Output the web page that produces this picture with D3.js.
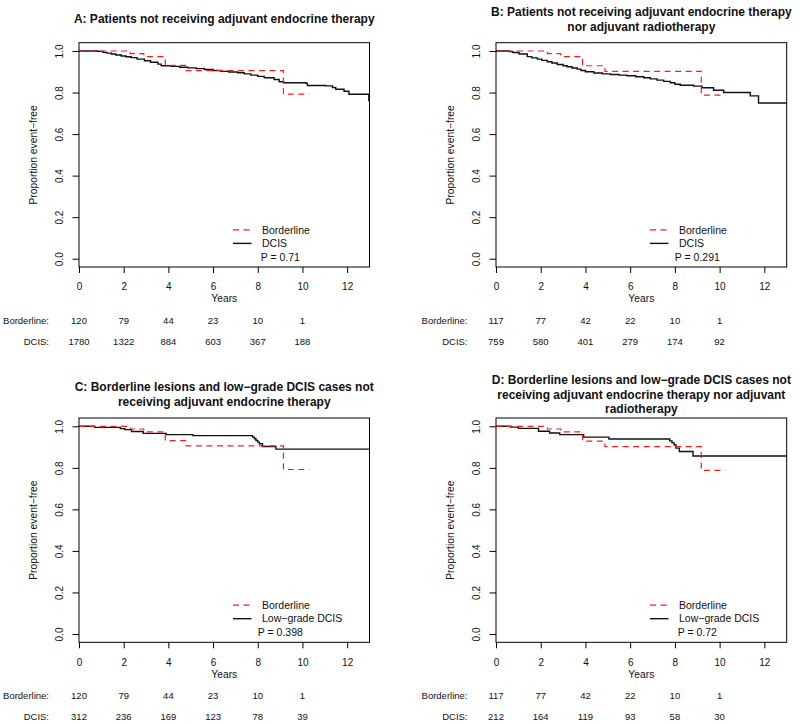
<!DOCTYPE html>
<html>
<head>
<meta charset="utf-8">
<script src="https://cdn.jsdelivr.net/npm/d3@7/dist/d3.min.js"></script>
<style>
  html, body { margin: 0; padding: 0; background: #fff; }
  svg { display: block; font-family: "Liberation Sans", Arial, Helvetica, sans-serif; }
</style>
</head>
<body>
<svg id="chart" width="800" height="724"></svg>
<script>
// ---------------- data ----------------
const xTicks = [0, 2, 4, 6, 8, 10, 12];
const yTicks = [0, 0.2, 0.4, 0.6, 0.8, 1.0];
const riskYears = [0, 2, 4, 6, 8, 10];

const titleA = ["A: Patients not receiving adjuvant endocrine therapy"];
const titleB = ["B: Patients not receiving adjuvant endocrine therapy", "nor adjuvant radiotherapy"];
const titleC = ["C: Borderline lesions and low\u2212grade DCIS cases not", "receiving adjuvant endocrine therapy"];
const titleD = ["D: Borderline lesions and low\u2212grade DCIS cases not", "receiving adjuvant endocrine therapy nor adjuvant", "radiotherapy"];

const legendAB = ["Borderline", "DCIS"];
const legendCD = ["Borderline", "Low\u2212grade DCIS"];
const pValues = ["P = 0.71", "P = 0.291", "P = 0.398", "P = 0.72"];

// Kaplan-Meier step curves: [years, proportion event-free]
const borderlineAC = [[0,1],[2.3,0.987],[2.9,0.973],[3.86,0.931],[4.8,0.906],[9.15,0.792],[10.3,0.792]];
const borderlineBD = [[0,1],[2.3,0.987],[2.9,0.973],[3.87,0.929],[4.87,0.902],[9.18,0.788],[10.25,0.788]];

const dcisA = [[0,1],[0.85,0.998],[1.07,0.9935],[1.25,0.99],[1.44,0.9855],[1.65,0.981],[1.89,0.976],[2.1,0.972],[2.34,0.968],[2.6,0.961],[2.93,0.953],[3.2,0.946],[3.53,0.937],[3.68,0.929],[4.12,0.926],[4.5,0.922],[4.87,0.919],[5.25,0.915],[5.61,0.911],[6.0,0.906],[6.35,0.902],[6.7,0.899],[7.10,0.895],[7.4,0.89],[7.69,0.884],[8.0,0.878],[8.29,0.871],[8.73,0.863],[8.96,0.852],[9.15,0.847],[10.15,0.844],[10.22,0.834],[11.04,0.832],[11.34,0.824],[11.49,0.816],[11.86,0.806],[12.08,0.792],[12.97,0.762],[13,0.762]];
const dcisB = [[0,1],[0.6,0.997],[0.75,0.993],[1.03,0.9855],[1.40,0.973],[1.6,0.967],[1.85,0.961],[2.05,0.955],[2.29,0.948],[2.5,0.942],[2.74,0.935],[3.0,0.929],[3.18,0.924],[3.4,0.918],[3.63,0.913],[3.8,0.906],[4.0,0.90],[4.375,0.894],[4.75,0.89],[5.12,0.887],[5.5,0.884],[5.86,0.881],[6.25,0.876],[6.61,0.871],[6.9,0.866],[7.2,0.86],[7.5,0.854],[7.8,0.847],[8.0,0.84],[8.24,0.835],[8.84,0.831],[9.21,0.823],[9.73,0.811],[10.18,0.80],[11.37,0.784],[11.74,0.75],[13,0.75]];
const dcisC = [[0,1],[0.7,0.995],[1.85,0.989],[2.05,0.984],[2.35,0.975],[2.87,0.966],[3.9,0.96],[5.1,0.955],[7.77,0.948],[7.85,0.94],[7.92,0.932],[8.0,0.924],[8.07,0.916],[8.21,0.903],[8.81,0.89],[13,0.89]];
const dcisD = [[0,1],[0.65,0.996],[1.0,0.99],[1.9,0.976],[2.4,0.968],[2.85,0.96],[3.92,0.948],[5.05,0.939],[7.77,0.93],[7.87,0.92],[7.97,0.91],[8.05,0.895],[8.2,0.879],[8.81,0.857],[13,0.857]];

// numbers at risk
const riskBorderlineA = [120, 79, 44, 23, 10, 1];
const riskDcisA = [1780, 1322, 884, 603, 367, 188];
const riskBorderlineB = [117, 77, 42, 22, 10, 1];
const riskDcisB = [759, 580, 401, 279, 174, 92];
const riskBorderlineC = [120, 79, 44, 23, 10, 1];
const riskDcisC = [312, 236, 169, 123, 78, 39];
const riskBorderlineD = [117, 77, 42, 22, 10, 1];
const riskDcisD = [212, 164, 119, 93, 58, 30];
const riskLabels = ["Borderline:", "DCIS:"];

// ---------------- layout ----------------
const svg = d3.select("#chart");
svg.append("rect").attr("width", 800).attr("height", 724).attr("fill", "#fff");

const panels = [
  {title: titleA, left: 79,  right: 369.5, top: 42.7, bottom: 267,   bl: borderlineAC, dc: dcisA, legend: legendAB, p: pValues[0], rb: riskBorderlineA, rd: riskDcisA, labelRight: 49},
  {title: titleB, left: 496, right: 786.7, top: 42.7, bottom: 267,   bl: borderlineBD, dc: dcisB, legend: legendAB, p: pValues[1], rb: riskBorderlineB, rd: riskDcisB, labelRight: 467.5},
  {title: titleC, left: 79,  right: 369.5, top: 418,  bottom: 642.3, bl: borderlineAC, dc: dcisC, legend: legendCD, p: pValues[2], rb: riskBorderlineC, rd: riskDcisC, labelRight: 49},
  {title: titleD, left: 496, right: 786.7, top: 418,  bottom: 642.3, bl: borderlineBD, dc: dcisD, legend: legendCD, p: pValues[3], rb: riskBorderlineD, rd: riskDcisD, labelRight: 467.5}
];

const RED = "#ff1a1a";
const DASH = "6,4.5";

panels.forEach(P => {
  const g = svg.append("g");
  const x = d3.scaleLinear().domain([0, 13]).range([P.left, P.right]);
  const y = d3.scaleLinear().domain([-0.04, 1.04]).range([P.bottom, P.top]);

  // title
  const cx = (P.left + P.right) / 2;
  const tc = P.top - 19.5;
  const n = P.title.length;
  P.title.forEach((t, i) => {
    g.append("text")
      .attr("x", cx).attr("y", tc + (i - (n - 1) / 2) * 14.8)
      .attr("text-anchor", "middle")
      .attr("font-size", 12).attr("font-weight", "bold").attr("fill", "#111")
      .text(t);
  });

  // x axis
  const xa = g.append("g").attr("transform", `translate(0,${P.bottom})`)
    .call(d3.axisBottom(x).tickValues(xTicks).tickSize(6).tickFormat(d3.format("d")));
  xa.select(".domain").remove();
  xa.selectAll("line").attr("stroke", "#000");
  xa.selectAll("text").attr("dy", null).attr("y", 23.3)
    .attr("font-size", 10).attr("fill", "#111").attr("font-family", null);

  // y axis
  const ya = g.append("g").attr("transform", `translate(${P.left},0)`)
    .call(d3.axisLeft(y).tickValues(yTicks).tickSize(6.5).tickFormat(d3.format(".1f")));
  ya.select(".domain").remove();
  ya.selectAll("line").attr("stroke", "#000");
  ya.selectAll("text").attr("x", 0).attr("dy", null).attr("y", 0)
    .attr("text-anchor", "middle")
    .attr("transform", "translate(-16,0) rotate(-90)")
    .attr("font-size", 10).attr("fill", "#111").attr("font-family", null);
  xa.attr("font-family", null);
  ya.attr("font-family", null);

  // axis titles
  g.append("text").attr("x", cx).attr("y", P.bottom + 35.3)
    .attr("text-anchor", "middle").attr("font-size", 10.3).attr("fill", "#111").text("Years");
  g.append("text")
    .attr("transform", `translate(${P.left - 42},${(P.top + P.bottom) / 2}) rotate(-90)`)
    .attr("text-anchor", "middle").attr("font-size", 10.3).attr("fill", "#111")
    .text("Proportion event\u2212free");

  // curves
  const line = d3.line().x(d => x(d[0])).y(d => y(d[1])).curve(d3.curveStepAfter);
  g.append("path").datum(P.dc).attr("d", line)
    .attr("fill", "none").attr("stroke", "#111").attr("stroke-width", 1.4);
  g.append("path").datum(P.bl).attr("d", line)
    .attr("fill", "none").attr("stroke", RED).attr("stroke-width", 1.2)
    .attr("stroke-dasharray", DASH);

  // box
  g.append("rect").attr("x", P.left).attr("y", P.top)
    .attr("width", P.right - P.left).attr("height", P.bottom - P.top)
    .attr("fill", "none").attr("stroke", "#000").attr("stroke-width", 1);

  // legend
  const y0 = y(0);
  const rows = [y0 - 28.9, y0 - 15.3];
  [[RED, DASH, 1.2], ["#111", null, 1.4]].forEach((s, i) => {
    g.append("line").attr("x1", P.left + 154).attr("x2", P.left + 172.5)
      .attr("y1", rows[i]).attr("y2", rows[i])
      .attr("stroke", s[0]).attr("stroke-width", s[2]).attr("stroke-dasharray", s[1]);
    g.append("text").attr("x", P.left + 183).attr("y", rows[i] + 3.8)
      .attr("font-size", 10.5).attr("fill", "#111").text(P.legend[i]);
  });
  g.append("text").attr("x", P.left + 201.3).attr("y", y0 - 1.3 + 3.8)
    .attr("text-anchor", "middle").attr("font-size", 10.5).attr("fill", "#111").text(P.p);

  // numbers at risk
  [P.rb, P.rd].forEach((vals, i) => {
    const ry = P.bottom + (i === 0 ? 57.1 : 78);
    g.append("text").attr("x", P.labelRight).attr("y", ry)
      .attr("text-anchor", "end").attr("font-size", 9.5).attr("fill", "#111").text(riskLabels[i]);
    g.selectAll(null).data(vals).enter().append("text")
      .attr("x", (d, j) => x(riskYears[j])).attr("y", ry)
      .attr("text-anchor", "middle").attr("font-size", 9.5).attr("fill", "#111")
      .text(d => d);
  });
});
</script>
</body>
</html>
